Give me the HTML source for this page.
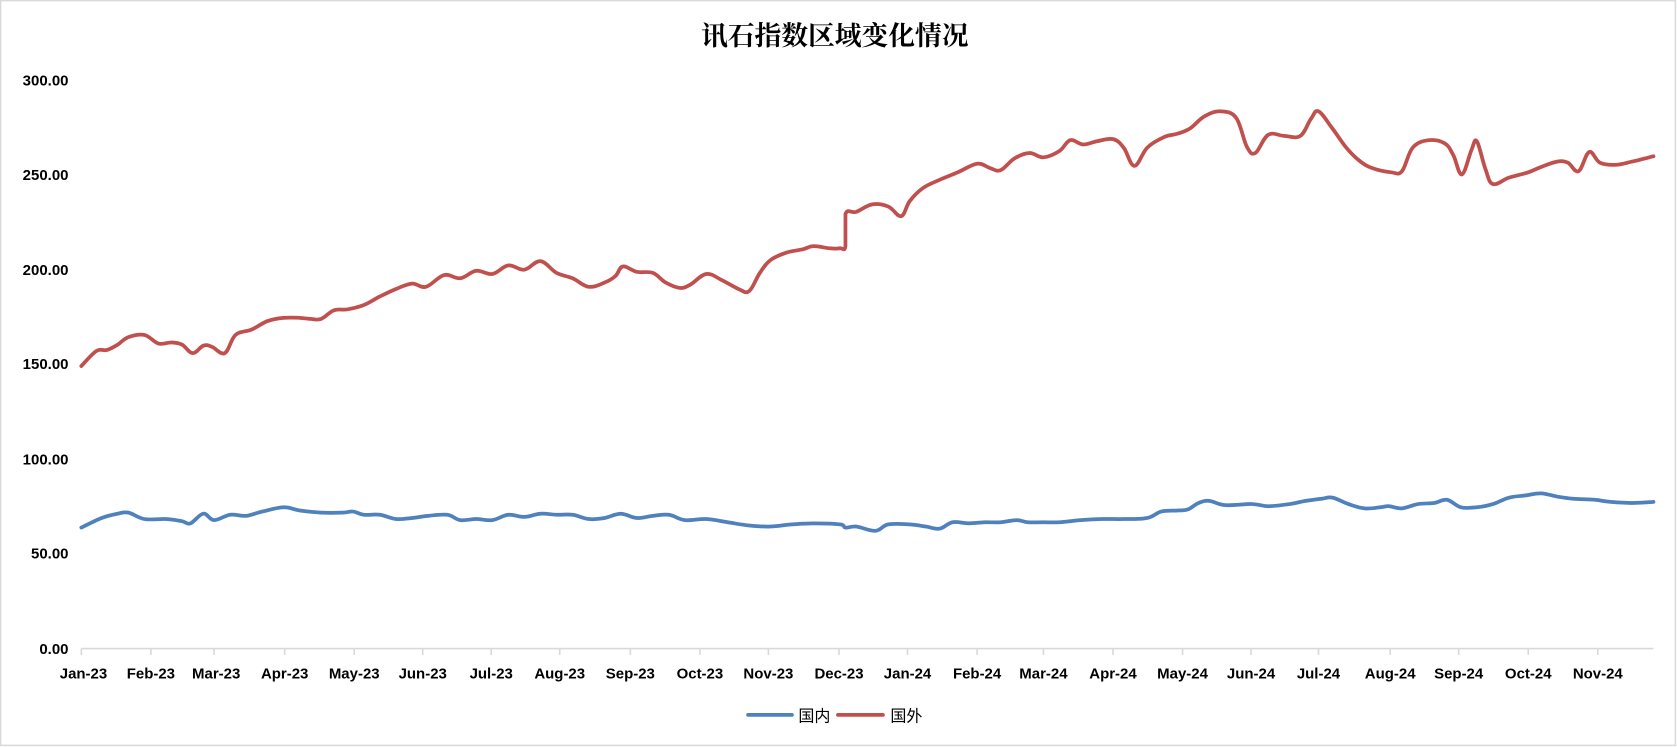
<!DOCTYPE html>
<html><head><meta charset="utf-8"><style>html,body{margin:0;padding:0;background:#fff}svg{display:block}</style></head>
<body>
<svg width="1677" height="747" viewBox="0 0 1567 698" preserveAspectRatio="none" xmlns="http://www.w3.org/2000/svg">
<rect x="0.5" y="0.5" width="1565" height="696" fill="#fff" stroke="#d9d9d9" stroke-width="1.5"/>
<text x="780" y="42" text-anchor="middle" font-family="'Liberation Serif','Noto Serif CJK SC',serif" font-size="25" font-weight="bold" fill="#000">讯石指数区域变化情况</text>
<g font-family="'Liberation Sans','Noto Sans CJK SC',sans-serif" font-size="14" font-weight="bold" fill="#000" text-anchor="end">
<text x="64" y="80">300.00</text><text x="64" y="168">250.00</text><text x="64" y="257">200.00</text><text x="64" y="345">150.00</text><text x="64" y="434">100.00</text><text x="64" y="522">50.00</text><text x="64" y="611">0.00</text>
</g>
<line x1="76" y1="606" x2="1545" y2="606" stroke="#d9d9d9" stroke-width="1.5"/>
<g stroke="#d9d9d9" stroke-width="1.5">
<line x1="76" y1="606" x2="76" y2="612"/><line x1="141" y1="606" x2="141" y2="612"/><line x1="200" y1="606" x2="200" y2="612"/><line x1="266" y1="606" x2="266" y2="612"/><line x1="331" y1="606" x2="331" y2="612"/><line x1="395" y1="606" x2="395" y2="612"/><line x1="459" y1="606" x2="459" y2="612"/><line x1="523" y1="606" x2="523" y2="612"/><line x1="589" y1="606" x2="589" y2="612"/><line x1="654" y1="606" x2="654" y2="612"/><line x1="718" y1="606" x2="718" y2="612"/><line x1="784" y1="606" x2="784" y2="612"/><line x1="848" y1="606" x2="848" y2="612"/><line x1="913" y1="606" x2="913" y2="612"/><line x1="975" y1="606" x2="975" y2="612"/><line x1="1040" y1="606" x2="1040" y2="612"/><line x1="1105" y1="606" x2="1105" y2="612"/><line x1="1169" y1="606" x2="1169" y2="612"/><line x1="1232" y1="606" x2="1232" y2="612"/><line x1="1299" y1="606" x2="1299" y2="612"/><line x1="1363" y1="606" x2="1363" y2="612"/><line x1="1428" y1="606" x2="1428" y2="612"/><line x1="1493" y1="606" x2="1493" y2="612"/>
</g>
<g font-family="'Liberation Sans',sans-serif" font-size="14" font-weight="bold" fill="#000" text-anchor="middle">
<text x="78" y="634">Jan-23</text><text x="141" y="634">Feb-23</text><text x="202" y="634">Mar-23</text><text x="266" y="634">Apr-23</text><text x="331" y="634">May-23</text><text x="395" y="634">Jun-23</text><text x="459" y="634">Jul-23</text><text x="523" y="634">Aug-23</text><text x="589" y="634">Sep-23</text><text x="654" y="634">Oct-23</text><text x="718" y="634">Nov-23</text><text x="784" y="634">Dec-23</text><text x="848" y="634">Jan-24</text><text x="913" y="634">Feb-24</text><text x="975" y="634">Mar-24</text><text x="1040" y="634">Apr-24</text><text x="1105" y="634">May-24</text><text x="1169" y="634">Jun-24</text><text x="1232" y="634">Jul-24</text><text x="1299" y="634">Aug-24</text><text x="1363" y="634">Sep-24</text><text x="1428" y="634">Oct-24</text><text x="1493" y="634">Nov-24</text>
</g>
<path id="red" fill="none" stroke="#c0504d" stroke-width="3.5" stroke-linejoin="round" stroke-linecap="round" data-p="76,342 90,328 100,327 110,322 120,315 135,313 148,321 160,320 170,322 180,330 190,323 198,324 210,330 220,313 235,308 250,300 265,297 280,297 290,298 300,298 312,290 325,289 340,285 355,277 370,270 385,265 398,268 415,257 430,260 445,253 460,256 475,248 490,252 505,244 520,255 535,260 550,268 565,264 575,258 582,249 595,254 610,255 622,264 635,269 645,266 660,256 675,262 690,270 700,272 710,255 720,243 735,236 750,233 760,230 775,232 785,232 790,230 790,200 800,198 815,191 830,193 842,202 850,188 862,176 878,168 895,161 913,153 925,157 935,159 948,148 962,143 975,147 990,141 1000,131 1012,135 1025,132 1040,130 1050,138 1060,155 1072,138 1088,128 1100,125 1112,120 1125,109 1140,104 1155,110 1165,137 1173,143 1185,126 1200,127 1215,127 1225,111 1232,104 1245,120 1258,138 1270,150 1282,157 1300,161 1310,160 1320,138 1335,131 1350,134 1358,145 1366,163 1375,140 1380,132 1388,158 1395,172 1410,166 1428,161 1440,156 1455,151 1465,152 1475,160 1485,142 1495,152 1510,154 1525,151 1545,146"/>
<path id="blue" fill="none" stroke="#4f81bd" stroke-width="3.5" stroke-linejoin="round" stroke-linecap="round" data-p="76,493 95,484 110,480 120,479 135,485 155,485 170,487 178,489 190,480 200,486 215,481 230,482 245,478 265,474 280,477 300,479 320,479 330,478 340,481 355,481 370,485 385,484 400,482 418,481 430,486 445,485 460,486 475,481 490,483 505,480 520,481 535,481 550,485 565,484 580,480 595,484 610,482 625,481 640,486 660,485 680,488 700,491 720,492 740,490 760,489 785,490 790,493 800,492 818,496 830,490 850,490 865,492 878,494 890,488 905,489 920,488 935,488 950,486 960,488 975,488 990,488 1010,486 1030,485 1050,485 1072,484 1085,478 1100,477 1110,476 1120,470 1130,468 1145,472 1170,471 1185,473 1205,471 1220,468 1235,466 1245,465 1260,471 1275,475 1290,474 1298,473 1310,475 1325,471 1340,470 1352,467 1365,474 1380,474 1395,471 1410,465 1425,463 1440,461 1455,464 1470,466 1490,467 1505,469 1525,470 1545,469"/>
<line x1="699" y1="668" x2="740" y2="668" stroke="#4f81bd" stroke-width="3.5" stroke-linecap="round"/>
<line x1="783" y1="668" x2="825" y2="668" stroke="#c0504d" stroke-width="3.5" stroke-linecap="round"/>
<g font-family="'Liberation Sans','Noto Sans CJK SC',sans-serif" font-size="15" fill="#000">
<text x="746" y="674">国内</text><text x="832" y="674">国外</text>
</g>
</svg>
<script>
['red','blue'].forEach(function(id){
var el=document.getElementById(id);
var p=el.getAttribute('data-p').split(' ').map(function(s){return s.split(',').map(Number);});
var d='M'+p[0][0]+','+p[0][1];var t=0.18;
for(var i=0;i<p.length-1;i++){
var p0=p[i-1]||p[i],p1=p[i],p2=p[i+1],p3=p[i+2]||p2;
var c1x=p1[0]+(p2[0]-p0[0])*t,c1y=p1[1]+(p2[1]-p0[1])*t;
var c2x=p2[0]-(p3[0]-p1[0])*t,c2y=p2[1]-(p3[1]-p1[1])*t;
if(p1[0]===p2[0]){c1x=p1[0];c2x=p2[0];}
d+=' C'+c1x.toFixed(1)+','+c1y.toFixed(1)+' '+c2x.toFixed(1)+','+c2y.toFixed(1)+' '+p2[0]+','+p2[1];
}
el.setAttribute('d',d);
});
</script>
</body></html>
